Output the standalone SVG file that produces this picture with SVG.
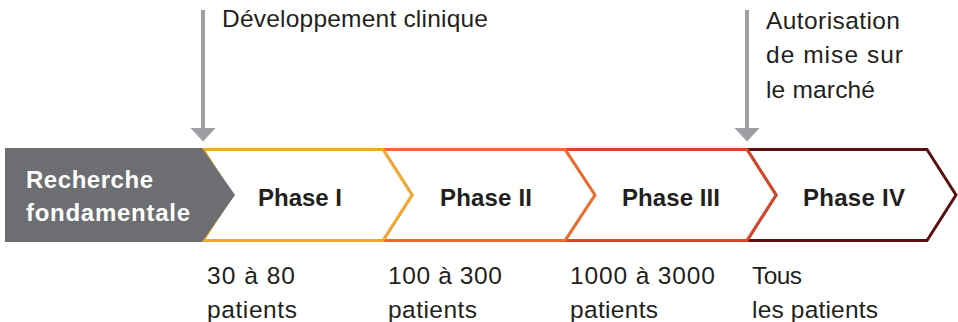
<svg xmlns="http://www.w3.org/2000/svg" width="958" height="322" viewBox="0 0 958 322">
<style>
.lbl{font-family:"Liberation Sans",Arial,sans-serif;font-size:24.5px;fill:#231f20}
.ph{font-family:"Liberation Sans",Arial,sans-serif;font-size:24px;font-weight:bold;fill:#231f20;text-anchor:middle}
.rf{font-family:"Liberation Sans",Arial,sans-serif;font-size:24px;font-weight:bold;fill:#ffffff}
.chev{fill:#ffffff;stroke-width:3;stroke-linejoin:miter}
.arr{stroke:#9d9fa2;stroke-width:4;fill:none}
</style>
<defs>
<marker id="ah" markerUnits="userSpaceOnUse" markerWidth="26" markerHeight="16" refX="13" refY="0.5" orient="0" viewBox="0 0 26 16">
<path d="M0,0 L26,0 L13,14 Z" fill="#9d9fa2"/>
</marker>
</defs>
<g id="phase4">
<polygon class="chev" stroke="#5a0f10" points="747,149.5 927,149.5 956,195 927,240.5 747,240.5 776,195"/>
<text class="ph" x="854" y="206" textLength="102" lengthAdjust="spacing">Phase IV</text>
</g>
<g id="phase3">
<polygon class="chev" stroke="#d9452b" points="565,149.5 747,149.5 776,195 747,240.5 565,240.5 594,195"/>
<text class="ph" x="671" y="206" textLength="98" lengthAdjust="spacing">Phase III</text>
</g>
<g id="phase2">
<polygon class="chev" stroke="#ec6a2a" points="383,149.5 565,149.5 595,195 565,240.5 383,240.5 412,195"/>
<text class="ph" x="486" y="206" textLength="92" lengthAdjust="spacing">Phase II</text>
</g>
<g id="phase1">
<polygon class="chev" stroke="#f0a830" points="203,149.5 383,149.5 412,195 383,240.5 203,240.5 232,195"/>
<text class="ph" x="300" y="206" textLength="84" lengthAdjust="spacing">Phase I</text>
</g>
<g id="recherche">
<polygon fill="#6d6e71" points="5,148 202,148 235,195 202,242 5,242"/>
<text class="rf" x="26" y="188" textLength="127" lengthAdjust="spacing">Recherche</text>
<text class="rf" x="26" y="221" textLength="164" lengthAdjust="spacing">fondamentale</text>
</g>
<g id="connectors">
<line class="arr" x1="203" y1="10" x2="203" y2="128" marker-end="url(#ah)"/>
<line class="arr" x1="747" y1="10" x2="747" y2="128" marker-end="url(#ah)"/>
</g>
<g id="annotations">
<text class="lbl" x="222" y="27" textLength="266" lengthAdjust="spacing">Développement clinique</text>
<text class="lbl" x="766" y="29" textLength="134" lengthAdjust="spacing">Autorisation</text>
<text class="lbl" x="766" y="63" textLength="137" lengthAdjust="spacing">de mise sur</text>
<text class="lbl" x="766" y="98" textLength="109" lengthAdjust="spacing">le marché</text>
<text class="lbl" x="207" y="284" textLength="88" lengthAdjust="spacing">30 à 80</text>
<text class="lbl" x="207" y="318" textLength="90" lengthAdjust="spacing">patients</text>
<text class="lbl" x="388" y="284" textLength="114" lengthAdjust="spacing">100 à 300</text>
<text class="lbl" x="388" y="318" textLength="89" lengthAdjust="spacing">patients</text>
<text class="lbl" x="570" y="284" textLength="145" lengthAdjust="spacing">1000 à 3000</text>
<text class="lbl" x="570" y="318" textLength="88" lengthAdjust="spacing">patients</text>
<text class="lbl" x="752" y="284" textLength="50" lengthAdjust="spacing">Tous</text>
<text class="lbl" x="752" y="318" textLength="126" lengthAdjust="spacing">les patients</text>
</g>
</svg>
